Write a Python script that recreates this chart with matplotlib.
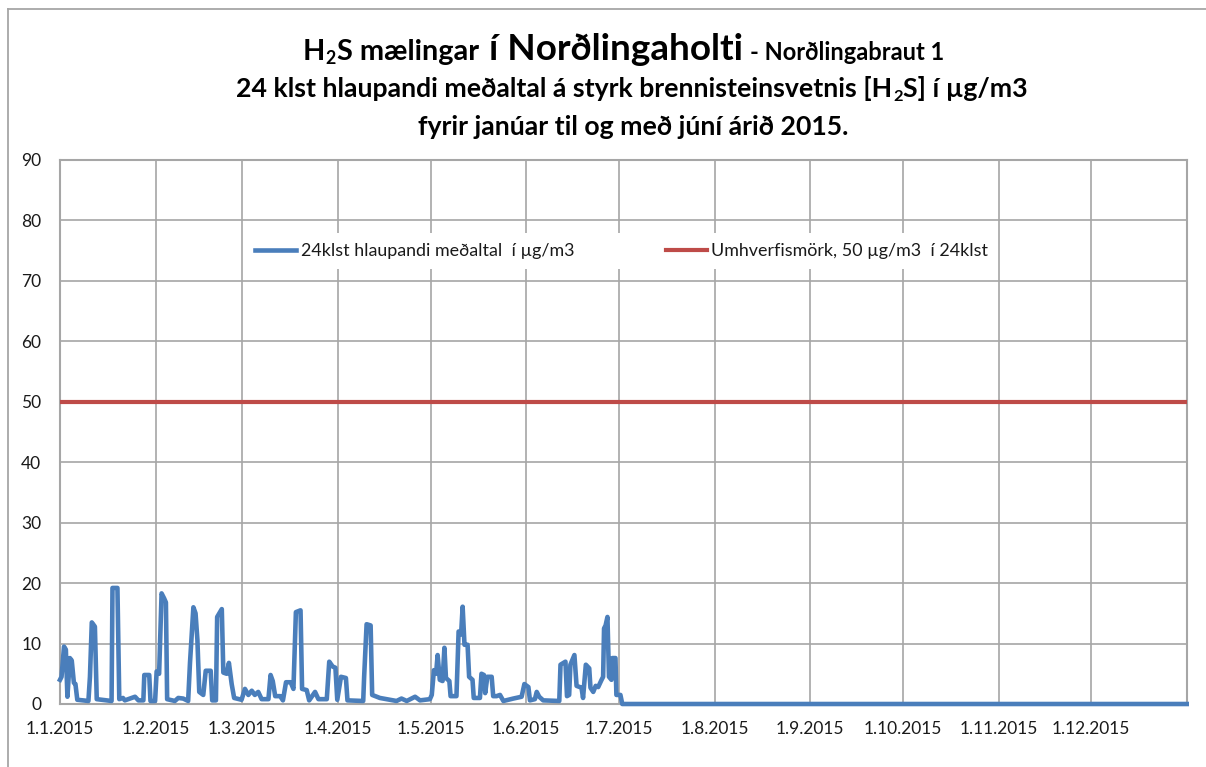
import numpy as np
import pandas as pd
import matplotlib
matplotlib.use("Agg")
import matplotlib.pyplot as plt
from matplotlib.lines import Line2D

# ---------------- data ----------------
day_offsets = [0.0, 0.5, 1.3, 1.9, 2.4, 3.2, 3.8, 4.5, 5.0, 5.6, 9.2, 9.7, 10.3, 11.3, 11.9,
               16.7, 17.0, 18.6, 19.2, 20.4, 21.0, 24.3, 25.4, 27.0, 27.3, 28.9, 29.3, 30.8,
               31.3, 32.1, 32.9, 33.7, 34.3, 34.7, 37.2, 38.3, 39.9, 41.5, 42.1, 43.2, 43.9,
               44.5, 45.1, 46.4, 47.2, 48.8, 49.3, 50.5, 50.9, 52.4, 52.9, 54.0, 54.7, 55.6,
               56.4, 58.8, 59.9, 61.0, 62.1, 63.1, 64.2, 65.3, 67.5, 68.2, 68.9, 69.7, 71.3,
               72.2, 73.2, 74.7, 75.6, 76.4, 77.9, 78.4, 79.9, 80.7, 82.6, 83.7, 86.4, 87.2,
               88.3, 89.2, 89.8, 91.0, 92.6, 93.1, 98.2, 98.5, 99.3, 100.6, 101.1, 103.6,
               109.0, 110.6, 112.3, 115.0, 116.6, 119.8, 120.4, 121.1, 121.8, 122.3, 123.0,
               123.9, 124.5, 125.0, 126.1, 126.5, 128.4, 129.1, 129.9, 130.4, 131.0, 132.0,
               132.5, 133.6, 134.0, 136.0, 136.5, 137.3, 137.7, 138.4, 139.8, 140.3, 141.4,
               142.5, 143.6, 146.8, 149.5, 150.4, 151.7, 152.2, 153.8, 154.4, 155.2, 156.5,
               161.7, 162.1, 163.7, 164.2, 164.9, 165.3, 166.6, 167.3, 168.9, 169.4, 170.3,
               171.4, 171.8, 172.7, 173.5, 174.3, 175.4, 175.9, 176.2, 176.7, 177.3, 177.8,
               178.6, 178.9, 179.9, 180.2, 181.5, 182.1, 364.9]
values = [4.0, 4.5, 9.5, 9.0, 1.2, 7.6, 7.2, 3.5, 3.3, 0.7, 0.5, 4.5, 13.5, 12.8, 0.8,
          0.5, 19.2, 19.2, 0.8, 1.0, 0.6, 1.2, 0.6, 0.6, 4.8, 4.8, 0.5, 0.5,
          5.4, 5.0, 18.3, 17.5, 16.8, 0.8, 0.5, 1.0, 0.9, 0.5, 6.8, 16.0, 15.0,
          10.6, 2.0, 1.5, 5.5, 5.5, 0.6, 0.6, 14.4, 15.7, 5.2, 5.0, 6.8, 3.3,
          1.0, 0.7, 2.5, 1.5, 2.2, 1.5, 2.0, 0.8, 0.8, 4.8, 3.8, 1.3, 1.3,
          0.6, 3.6, 3.6, 2.5, 15.2, 15.5, 2.5, 2.3, 0.6, 2.0, 0.8, 0.8, 7.0,
          6.2, 6.0, 0.7, 4.5, 4.3, 0.6, 0.5, 4.5, 13.2, 13.0, 1.5, 1.0,
          0.5, 0.9, 0.5, 1.2, 0.6, 0.8, 1.5, 5.6, 5.0, 8.1, 4.0,
          3.8, 9.3, 4.3, 3.8, 1.3, 1.3, 12.0, 11.5, 16.1, 9.8, 9.8,
          4.5, 4.0, 1.0, 1.0, 5.0, 4.8, 1.8, 4.5, 4.5, 1.3, 1.3,
          1.5, 0.5, 0.9, 1.2, 3.3, 2.8, 0.6, 0.8, 2.0, 1.2, 0.6,
          0.5, 6.5, 7.0, 1.3, 1.5, 6.5, 8.1, 3.0, 2.7, 1.0, 6.5,
          5.9, 2.7, 2.0, 3.0, 2.8, 4.0, 4.5, 12.5, 13.0, 14.4, 4.5,
          4.0, 7.6, 7.6, 1.5, 1.5, 0.0, 0.0]
limit_value = 50
month_labels = ["1.1.2015", "1.2.2015", "1.3.2015", "1.4.2015", "1.5.2015", "1.6.2015",
                "1.7.2015", "1.8.2015", "1.9.2015", "1.10.2015", "1.11.2015", "1.12.2015"]
y_ticks = [0, 10, 20, 30, 40, 50, 60, 70, 80, 90]
series_label = "24klst hlaupandi meðaltal  í µg/m3"
limit_label = "Umhverfismörk, 50 µg/m3  í 24klst"

# ---------------- style ----------------
FONT = "Lato"
BLUE = "#4A7EBB"
RED = "#BE4B48"
GRID = "#A6A6A6"
TXT = "#1a1a1a"
plt.rcParams["font.family"] = [FONT, "DejaVu Sans"]

W, H = 1206, 767
fig = plt.figure(figsize=(W / 100, H / 100), dpi=100)
ax = fig.add_axes([60 / W, 1 - 704 / H, (1187 - 60) / W, (704 - 160) / H])

start = pd.Timestamp("2015-01-01")
end = pd.Timestamp("2016-01-01")
dates = start + pd.to_timedelta(np.array(day_offsets), unit="D")
month_dates = pd.date_range(start, periods=12, freq="MS")

ax.plot(dates, values, color=BLUE, lw=3.3, solid_joinstyle="round", zorder=4,
        label=series_label, clip_on=False)
ax.plot([start, end], [limit_value, limit_value], color=RED, lw=3.0, zorder=3,
        label=limit_label)

ax.set_xlim(start, end)
ax.set_ylim(0, 90)
ax.set_yticks(y_ticks)
ax.set_xticks(month_dates)
ax.set_xticklabels(month_labels)
ax.tick_params(length=0, labelsize=12.5, colors=TXT)
ax.tick_params(axis="y", pad=13.5)
ax.tick_params(axis="x", pad=12)
ax.grid(True, color=GRID, lw=1.2, zorder=0)
ax.set_axisbelow(True)
for s in ax.spines.values():
    s.set_color(GRID)
    s.set_linewidth(1.5)

leg = ax.legend(loc="center", bbox_to_anchor=(0.4985, 0.8327), ncol=2, frameon=True,
                fontsize=12.9, handlelength=2.3, handletextpad=0.25, columnspacing=5.1,
                borderpad=0.55, fancybox=False)
leg.get_frame().set_facecolor("white")
leg.get_frame().set_edgecolor("none")
leg.get_frame().set_alpha(1)
leg.set_zorder(5)
for t in leg.get_texts():
    t.set_color(TXT)

# outer chart border
fig.add_artist(Line2D([8 / W, 8 / W], [0, 1 - 9 / H], transform=fig.transFigure,
                      color=GRID, lw=1.3))
fig.add_artist(Line2D([8 / W, 1], [1 - 9 / H, 1 - 9 / H], transform=fig.transFigure,
                      color=GRID, lw=1.3))

# ---------------- title (composed pieces) ----------------
renderer = fig.canvas.get_renderer()


def piece_width(txt, size):
    t = fig.text(0, 0, txt, fontsize=size, fontweight="bold", family=FONT)
    w = t.get_window_extent(renderer).width
    t.remove()
    return w


def draw_line(pieces, cx, base_y, target):
    # pieces: (text, rel_size, dy_em, gap_em_before)
    base = 16.0
    tot = 0
    for txt, rs, dy, gap in pieces:
        tot += piece_width(txt, base * rs) + gap * base * rs * 100 / 72
    k = target / tot
    base *= k
    x = cx - target / 2
    for txt, rs, dy, gap in pieces:
        size = base * rs
        x += gap * size * 100 / 72
        y = base_y + dy * size * 100 / 72
        fig.text(x / W, 1 - y / H, txt, fontsize=size, fontweight="bold", family=FONT,
                 ha="left", va="baseline", color="black")
        x += piece_width(txt, size)


draw_line([("H", 1.0, 0, 0), ("2", 0.62, 0.25, 0.02), ("S mælingar", 1.0, 0, 0.02),
           ("í Norðlingaholti", 1.28, 0, 0.28), ("- Norðlingabraut 1", 0.82, 0, 0.3)],
          624, 60, 642)
draw_line([("24 klst hlaupandi meðaltal á styrk brennisteinsvetnis [H", 1.0, 0, 0),
           ("2", 0.62, 0.25, 0.02), ("S] í µg/m3", 1.0, 0, 0.02)],
          632, 97, 791)
draw_line([("fyrir janúar til og með júní árið 2015.", 1.0, 0, 0)], 634, 135, 433)

fig.savefig("out.png", dpi=100, facecolor="white")
